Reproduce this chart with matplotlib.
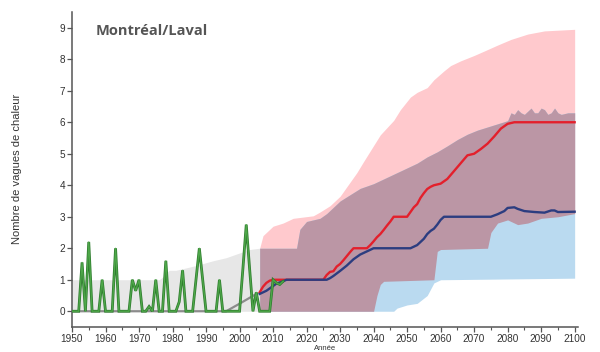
import numpy as np
import matplotlib
matplotlib.use("Agg")
import matplotlib.pyplot as plt

# ---------------- data ----------------
obs_years = list(range(1950, 2014))
obs_values = [0, 0, 0, 1.55, 0, 2.2, 0, 0, 0, 1.0,
              0, 0, 0, 2.0, 0, 0, 0, 0, 1.0, 0.65,
              1.0, 0, 0, 0.15, 0, 1.0, 0, 0, 1.6, 0,
              0, 0, 0.3, 1.3, 0, 0, 0, 1.0, 2.0, 1.0,
              0, 0, 0, 0, 1.0, 0, 0, 0, 0, 0,
              0, 1.35, 2.75, 1.35, 0, 0.6, 0, 0, 0, 0,
              1.0, 0.9, 0.85, 0.95]

hist_band_years = [1950, 1976, 1977, 1978, 1979, 1981, 1985, 1988, 1992, 1996, 2000, 2003, 2006]
hist_band_upper = [1.0, 1.0, 1.08, 1.2, 1.3, 1.3, 1.4, 1.48, 1.6, 1.7, 1.85, 1.96, 2.0]

hist_med_years = [1950, 1996, 2000, 2005]
hist_med_values = [0, 0, 0.24, 0.55]

fut_years = list(range(2006, 2101))

rcp85_up_years = [2006, 2007, 2008, 2010, 2013, 2016, 2022, 2024, 2027, 2030, 2032, 2035,
                  2037, 2041, 2042, 2046, 2048, 2051, 2053, 2056, 2058, 2061, 2063, 2066,
                  2070, 2073, 2077, 2081, 2086, 2091, 2100]
rcp85_up_values = [2.0, 2.4, 2.5, 2.7, 2.8, 2.95, 3.03, 3.15, 3.35, 3.65, 3.95, 4.4,
                   4.75, 5.43, 5.6, 6.06, 6.4, 6.8, 6.95, 7.1, 7.35, 7.63, 7.8, 7.95,
                   8.12, 8.26, 8.45, 8.63, 8.8, 8.9, 8.95]

rcp85_lo_years = [2006, 2040, 2041, 2042, 2043, 2058, 2059, 2060, 2074, 2075, 2077, 2080,
                  2083, 2086, 2090, 2095, 2100]
rcp85_lo_values = [0, 0, 0.5, 0.85, 0.95, 1.0, 1.9, 1.96, 2.0, 2.5, 2.8, 2.9,
                   2.75, 2.8, 2.95, 3.0, 3.1]

rcp45_up_years = [2006, 2017, 2018, 2020, 2024, 2026, 2028, 2030, 2033, 2036, 2040, 2045,
                  2050, 2053, 2056, 2059, 2062, 2065, 2068, 2071, 2074, 2077, 2080, 2081,
                  2082, 2083, 2084, 2085, 2086, 2087, 2088, 2089, 2090, 2091, 2092, 2093,
                  2094, 2095, 2096, 2098, 2100]
rcp45_up_values = [2.0, 2.0, 2.6, 2.85, 2.95, 3.1, 3.3, 3.5, 3.7, 3.9, 4.05, 4.3,
                   4.55, 4.7, 4.9, 5.06, 5.25, 5.45, 5.62, 5.75, 5.85, 5.95, 6.05, 6.3,
                   6.25, 6.4, 6.3, 6.25, 6.35, 6.45, 6.3, 6.3, 6.45, 6.4, 6.25, 6.3,
                   6.45, 6.3, 6.25, 6.3, 6.3]

rcp45_lo_years = [2006, 2046, 2047, 2050, 2053, 2056, 2058, 2060, 2100]
rcp45_lo_values = [0, 0, 0.1, 0.2, 0.25, 0.5, 0.9, 1.0, 1.05]

rcp85_med_years = [2006, 2007, 2008, 2009, 2010, 2025, 2026, 2027, 2028, 2029, 2030, 2031,
                   2032, 2033, 2034, 2038, 2039, 2040, 2041, 2042, 2043, 2044, 2045, 2046,
                   2050, 2051, 2052, 2053, 2054, 2055, 2056, 2057, 2058, 2060, 2062, 2064,
                   2066, 2068, 2070, 2072, 2074, 2076, 2078, 2080, 2082, 2100]
rcp85_med_values = [0.6, 0.78, 0.9, 0.97, 1.0, 1.0, 1.15, 1.25, 1.27, 1.42, 1.5, 1.62,
                    1.75, 1.88, 2.0, 2.0, 2.1, 2.22, 2.35, 2.45, 2.58, 2.72, 2.85, 3.0,
                    3.0, 3.15, 3.3, 3.4, 3.6, 3.75, 3.88, 3.95, 4.0, 4.05, 4.2, 4.45,
                    4.7, 4.95, 5.0, 5.15, 5.32, 5.55, 5.8, 5.95, 6.0, 6.0]

rcp45_med_years = [2006, 2008, 2010, 2011, 2013, 2014, 2026, 2027, 2028, 2030, 2032, 2034,
                   2036, 2038, 2040, 2051, 2052, 2053, 2055, 2056, 2057, 2058, 2059, 2060,
                   2061, 2075, 2077, 2079, 2080, 2082, 2083, 2085, 2088, 2091, 2093, 2094,
                   2095, 2100]
rcp45_med_values = [0.55, 0.65, 0.8, 0.88, 0.95, 1.0, 1.0, 1.05, 1.12, 1.28, 1.45, 1.65,
                    1.8, 1.9, 2.0, 2.0, 2.05, 2.1, 2.3, 2.45, 2.55, 2.62, 2.75, 2.9,
                    3.0, 3.0, 3.08, 3.18, 3.28, 3.3, 3.25, 3.18, 3.15, 3.13, 3.2, 3.2,
                    3.15, 3.16]

x_ticks = list(range(1950, 2101, 10))
y_ticks = list(range(0, 10))
title_text = "Montréal/Laval"
ylabel_text = "Nombre de vagues de chaleur"
xlabel_text = "Année"

# ---------------- figure ----------------
fig = plt.figure(figsize=(6.0, 3.52), dpi=100)
ax = fig.add_axes([72 / 600, 25 / 352, 506 / 600, 315 / 352])

fy = np.array(fut_years, dtype=float)
r85u = np.interp(fy, rcp85_up_years, rcp85_up_values)
r85l = np.interp(fy, rcp85_lo_years, rcp85_lo_values)
r45u = np.interp(fy, rcp45_up_years, rcp45_up_values)
r45l = np.interp(fy, rcp45_lo_years, rcp45_lo_values)

c_gray_band = "#e7e7e7"
c_pink = "#ffc9cd"
c_blue = "#badaf0"
c_purple = "#bb96a5"

ax.fill_between(hist_band_years, 0, hist_band_upper, color=c_gray_band, lw=0, zorder=1)
ax.fill_between(fy, r85l, r85u, color=c_pink, lw=0, zorder=2)
ax.fill_between(fy, r45l, r45u, color=c_blue, lw=0, zorder=2)
ax.fill_between(fy, np.maximum(r85l, r45l), np.minimum(r85u, r45u),
                where=np.minimum(r85u, r45u) >= np.maximum(r85l, r45l),
                color=c_purple, lw=0, zorder=3)

ax.plot(hist_med_years, hist_med_values, color="#8c8c8c", lw=1.6, zorder=4)
ax.plot(rcp85_med_years, rcp85_med_values, color="#e3202c", lw=1.7, zorder=5)
ax.plot(rcp45_med_years, rcp45_med_values, color="#2c3d80", lw=1.7, zorder=5)
ax.plot(obs_years, obs_values, color="#2f7d2f", lw=2.0, zorder=6, solid_joinstyle="miter")
ax.plot(obs_years, obs_values, color="#4fa84a", lw=0.9, zorder=7)

ax.set_xlim(1950, 2101)
ax.set_ylim(-0.5, 9.5)
ax.set_xticks(x_ticks)
ax.set_xticks(list(range(1955, 2100, 10)), minor=True)
ax.set_yticks(y_ticks)

for s in ["top", "right"]:
    ax.spines[s].set_visible(False)
for s in ["left", "bottom"]:
    ax.spines[s].set_color("#555555")
    ax.spines[s].set_linewidth(1.1)

tick_family = ["Liberation Sans Narrow", "Liberation Sans", "DejaVu Sans"]
ax.tick_params(axis="both", which="major", length=3.5, width=0.9, color="#555555",
               labelcolor="#333333", pad=1.5)
ax.tick_params(axis="x", which="minor", length=2.5, width=0.8, color="#555555")
for lab in ax.get_xticklabels() + ax.get_yticklabels():
    lab.set_fontfamily(tick_family)
    lab.set_fontsize(7.2)

ax.text(1957, 8.9, title_text, fontsize=10.5, fontweight="bold", color="#555555",
        family=["Open Sans", "DejaVu Sans"], va="center", ha="left")

fig.text(17 / 600, 1 - 169 / 352, ylabel_text, rotation=90, ha="center", va="center",
         fontsize=8, color="#333333", family=["Liberation Sans", "DejaVu Sans"])
fig.text(325 / 600, 0.5 / 352, xlabel_text, ha="center", va="bottom",
         fontsize=5.5, color="#333333", family=["Liberation Sans", "DejaVu Sans"])

fig.savefig("out.png", dpi=100)
